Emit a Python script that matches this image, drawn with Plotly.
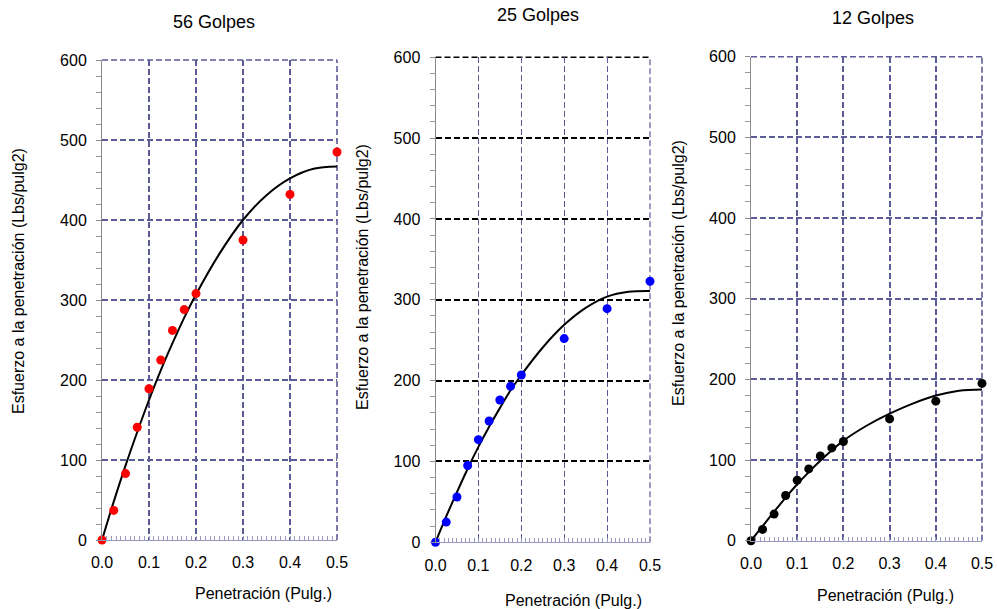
import plotly.graph_objects as go

# ---- data ----
penetracion = [0.0, 0.025, 0.05, 0.075, 0.1, 0.125, 0.15, 0.175, 0.2, 0.3, 0.4, 0.5]
esfuerzo_56 = [0, 37, 83, 141, 189, 225, 262, 288, 308, 375, 432, 485]
esfuerzo_25 = [0, 25, 56, 95, 127, 150, 176, 193, 207, 252, 289, 323]
esfuerzo_12 = [0, 14, 33, 56, 75, 89, 105, 115, 123, 151, 173, 195]

curva_x = [0.0, 0.025, 0.05, 0.075, 0.1, 0.125, 0.15, 0.175, 0.2, 0.25, 0.3, 0.35, 0.4, 0.45, 0.5]
curva_56 = [0, 48, 93, 135, 175, 212, 246, 278, 307, 358, 400, 431, 452, 464, 467]
curva_25 = [0, 32, 62, 91, 118, 143, 166, 188, 207, 241, 269, 290, 304, 310, 311]
curva_12 = [0, 18, 36, 53.5, 70, 85, 99, 112, 124, 142.5, 157.5, 170, 180, 186, 187.5]

titulos = ["56 Golpes", "25 Golpes", "12 Golpes"]
colores = ["#ff0000", "#0000ff", "#000000"]
x_tickvals = [0.0, 0.1, 0.2, 0.3, 0.4, 0.5]
x_ticktext = ["0.0", "0.1", "0.2", "0.3", "0.4", "0.5"]
y_tickvals = [0, 100, 200, 300, 400, 500, 600]

W, H = 997, 609
FONT = "Arial, Liberation Sans, sans-serif"
SLATE = "#5c5c98"
DASH = "6px,3px"

fig = go.Figure()

series = [esfuerzo_56, esfuerzo_25, esfuerzo_12]
curvas = [curva_56, curva_25, curva_12]

# pixel layout of the plot areas (left, right, top, bottom)
areas = [(102, 337, 60, 540), (435.5, 650, 57.3, 542.3), (751, 982, 56.7, 540.7)]
hgrid_colors = [SLATE, "#000000", SLATE]
vgrid_width = [1.6, 1.2, 1.6]

shapes = []
for i in range(3):
    n = "" if i == 0 else str(i + 1)
    xa, ya = "x" + n, "y" + n
    fig.add_trace(go.Scatter(x=curva_x, y=curvas[i], mode="lines", line=dict(color="black", width=2, shape="spline"),
                             xaxis=xa, yaxis=ya, showlegend=False, cliponaxis=False))
    fig.add_trace(go.Scatter(x=penetracion, y=series[i], mode="markers",
                             marker=dict(color=colores[i], size=9, line=dict(width=0)),
                             xaxis=xa, yaxis=ya, showlegend=False, cliponaxis=False))
    l, r, t, b = areas[i]
    xdom = [l / W, r / W]
    ydom = [(H - b) / H, (H - t) / H]
    fig.layout["xaxis" + n] = dict(
        domain=xdom, range=[0, 0.5], anchor=ya, automargin=False,
        tickvals=x_tickvals, ticktext=x_ticktext,
        showgrid=True, gridcolor=SLATE, gridwidth=vgrid_width[i], griddash=DASH,
        zeroline=False, showline=True, linecolor="#9a9ac0", linewidth=1,
        ticks="inside", ticklen=4, tickcolor="#9a9ac0", tickwidth=1,
        minor=dict(dtick=0.01, tick0=0, ticks="inside", ticklen=4, tickcolor="#9a9ac0", tickwidth=1, showgrid=False),
        tickfont=dict(family=FONT, size=16, color="black"), ticklabelstandoff=8,
        fixedrange=True,
    )
    fig.layout["yaxis" + n] = dict(
        domain=ydom, range=[0, 600], anchor=xa, automargin=False,
        tickvals=y_tickvals,
        showgrid=True, gridcolor=hgrid_colors[i], gridwidth=1.6, griddash=DASH,
        zeroline=False, showline=True, linecolor="#8a8a8a", linewidth=1,
        ticks="outside", ticklen=5, tickcolor="#8a8a8a", tickwidth=1,
        minor=dict(dtick=20, tick0=0, ticks="outside", ticklen=5, tickcolor="#9a9a9a", tickwidth=1, showgrid=False),
        tickfont=dict(family=FONT, size=16, color="black"), ticklabelstandoff=6,
        fixedrange=True,
    )
    # boundary grid lines (top at 600, right at 0.5)
    shapes.append(dict(type="line", xref=xa + " domain", yref=ya + " domain", x0=0, x1=1, y0=1, y1=1,
                       line=dict(color=hgrid_colors[i], width=1.6, dash=DASH), layer="below"))
    shapes.append(dict(type="line", xref=xa + " domain", yref=ya + " domain", x0=1, x1=1, y0=0, y1=1,
                       line=dict(color=SLATE, width=vgrid_width[i], dash=DASH), layer="below"))

annotations = []
title_pos = [(214, 22), (537.5, 14.5), (873, 17.5)]
xt_pos = [(263, 593), (573, 600), (885, 595)]
yt_pos = [(18, 281), (362, 277), (678, 273)]
for i in range(3):
    annotations.append(dict(text=titulos[i], x=title_pos[i][0] / W, y=1 - title_pos[i][1] / H,
                            xref="paper", yref="paper", showarrow=False, xanchor="center", yanchor="middle",
                            font=dict(family=FONT, size=18, color="black")))
    annotations.append(dict(text="Penetración (Pulg.)", x=xt_pos[i][0] / W, y=1 - xt_pos[i][1] / H,
                            xref="paper", yref="paper", showarrow=False, xanchor="center", yanchor="middle",
                            font=dict(family=FONT, size=16, color="black")))
    annotations.append(dict(text="Esfuerzo a la penetración (Lbs/pulg2)", x=yt_pos[i][0] / W, y=1 - yt_pos[i][1] / H,
                            xref="paper", yref="paper", showarrow=False, xanchor="center", yanchor="middle",
                            textangle=-90, font=dict(family=FONT, size=16, color="black")))

fig.update_layout(width=W, height=H, margin=dict(l=0, r=0, t=0, b=0),
                  paper_bgcolor="white", plot_bgcolor="white", annotations=annotations, shapes=shapes,
                  showlegend=False)

fig.write_html("out.html", config={"displayModeBar": False},
               post_script="document.body.style.margin='0px'; document.body.style.overflow='hidden';")
